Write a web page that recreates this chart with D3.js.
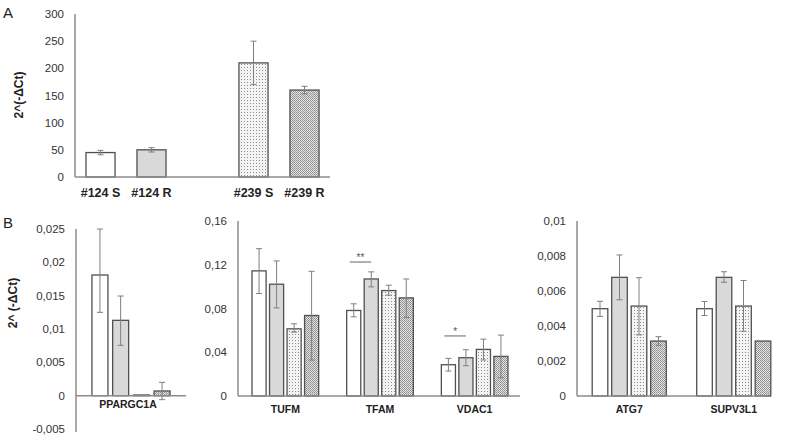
<!DOCTYPE html>
<html><head><meta charset="utf-8">
<script src="https://cdn.jsdelivr.net/npm/d3@7"></script>
<style>
html,body{margin:0;padding:0;background:#fff;}
svg{display:block;font-family:"Liberation Sans",Arial,sans-serif;}
</style></head>
<body>
<svg id="c" width="786" height="440"></svg>
<script>
// ---------- DATA ----------
// Panel A
const catsA = ["#124 S", "#124 R", "#239 S", "#239 R"];
const valsA = [45, 50, 210, 160];
const loA   = [41, 46, 170, 153];
const hiA   = [49, 54, 250, 167];
const ticksA = [0, 50, 100, 150, 200, 250, 300];

// Panel B, series order: #124 S, #124 R, #239 S, #239 R
const genesL = ["PPARGC1A"];
const valsL = [[0.0181, 0.0113, 0.0001, 0.0007]];
const loL   = [[0.0125, 0.00755, null, -0.0006]];
const hiL   = [[0.025, 0.01495, null, 0.002]];
const ticksL = [-0.005, 0, 0.005, 0.01, 0.015, 0.02, 0.025];

const genesM = ["TUFM", "TFAM", "VDAC1"];
const valsM = [[0.1144, 0.1022, 0.0614, 0.0736],
               [0.0782, 0.1070, 0.0964, 0.0897],
               [0.0286, 0.0350, 0.0426, 0.0362]];
const loM   = [[0.0937, 0.0806, 0.0584, 0.0329],
               [0.0724, 0.0998, 0.0922, 0.0718],
               [0.0228, 0.0277, 0.0329, 0.0167]];
const hiM   = [[0.1347, 0.1235, 0.0660, 0.1140],
               [0.0843, 0.1135, 0.1013, 0.1070],
               [0.0344, 0.0423, 0.0520, 0.0557]];
const ticksM = [0, 0.04, 0.08, 0.12, 0.16];
const sigM = [{gene: "TFAM", y: 0.1225, label: "**"},
              {gene: "VDAC1", y: 0.0549, label: "*"}];

const genesR = ["ATG7", "SUPV3L1"];
const valsR = [[0.00499, 0.00678, 0.00514, 0.00314],
               [0.00499, 0.00678, 0.00514, 0.00314]];
const loR   = [[0.00455, 0.0055, 0.00349, 0.0029],
               [0.0046, 0.0065, 0.0037, null]];
const hiR   = [[0.00541, 0.00806, 0.00676, 0.00339],
               [0.0054, 0.0071, 0.0066, null]];
const ticksR = [0, 0.002, 0.004, 0.006, 0.008, 0.01];

const yTitle = "2^(-ΔCt)";
const yTitleB = "2^ (-ΔCt)";

// ---------- STYLE ----------
const svg = d3.select("#c");
const defs = svg.append("defs");
const p1 = defs.append("pattern").attr("id", "dotsLight").attr("patternUnits", "userSpaceOnUse")
  .attr("width", 3).attr("height", 3);
p1.append("rect").attr("width", 3).attr("height", 3).attr("fill", "#f4f4f4");
p1.append("rect").attr("x", 1).attr("y", 1).attr("width", 1).attr("height", 1).attr("fill", "#8a8a8a");
const p2 = defs.append("pattern").attr("id", "dotsDark").attr("patternUnits", "userSpaceOnUse")
  .attr("width", 2).attr("height", 2);
p2.append("rect").attr("width", 2).attr("height", 2).attr("fill", "#e4e4e4");
p2.append("rect").attr("x", 0).attr("y", 0).attr("width", 1).attr("height", 1).attr("fill", "#8c8c8c");
p2.append("rect").attr("x", 1).attr("y", 1).attr("width", 1).attr("height", 1).attr("fill", "#9a9a9a");

const fills = ["#ffffff", "#d9d9d9", "url(#dotsLight)", "url(#dotsDark)"];
const barStroke = "#505050";
const axisColor = "#8c8c8c";
const errColor = "#7f7f7f";
const fmt = v => (v === 0 ? "0" : String(v).replace(".", ","));

function yAxisDraw(y, ticks, x, yTop, yBot, labelSize) {
  svg.append("line").attr("x1", x).attr("x2", x).attr("y1", yTop).attr("y2", yBot)
    .attr("stroke", axisColor).attr("stroke-width", 1.5);
  svg.append("g").selectAll("text").data(ticks).join("text")
    .attr("x", x - 11).attr("y", d => y(d)).attr("dy", "0.35em")
    .attr("text-anchor", "end").attr("font-size", labelSize).attr("fill", "#333")
    .text(fmt);
}
function xAxisLine(y, x0, x1) {
  svg.append("line").attr("x1", x0).attr("x2", x1).attr("y1", y(0)).attr("y2", y(0))
    .attr("stroke", axisColor).attr("stroke-width", 1.5);
}
function errBars(g, recs, y, cap) {
  recs.filter(r => r.lo != null).forEach(r => {
    g.append("line").attr("x1", r.cx).attr("x2", r.cx).attr("y1", y(r.lo)).attr("y2", y(r.hi))
      .attr("stroke", errColor).attr("stroke-width", 1);
    [r.lo, r.hi].forEach(v => g.append("line").attr("x1", r.cx - cap / 2).attr("x2", r.cx + cap / 2)
      .attr("y1", y(v)).attr("y2", y(v)).attr("stroke", errColor).attr("stroke-width", 1));
  });
}

// ---------- PANEL A ----------
const domA = [catsA[0], catsA[1], "gap", catsA[2], catsA[3]];
const xA = d3.scaleBand().domain(domA).range([75, 330]).paddingInner(0.43).paddingOuter(0.215);
const yA = d3.scaleLinear().domain([0, 300]).range([177, 14]);
yAxisDraw(yA, ticksA, 75, 14, 177, 11.5);
const gA = svg.append("g");
const recA = catsA.map((c, i) => ({c, v: valsA[i], lo: loA[i], hi: hiA[i], i,
  cx: xA(c) + xA.bandwidth() / 2}));
gA.selectAll("rect").data(recA).join("rect")
  .attr("x", d => xA(d.c)).attr("width", xA.bandwidth())
  .attr("y", d => yA(d.v)).attr("height", d => yA(0) - yA(d.v))
  .attr("fill", d => fills[d.i]).attr("stroke", barStroke).attr("stroke-width", 1.3);
xAxisLine(yA, 75, 330);
errBars(gA, recA, yA, 6);
svg.append("g").selectAll("text").data(catsA).join("text")
  .attr("x", d => xA(d) + xA.bandwidth() / 2).attr("y", 197)
  .attr("text-anchor", "middle").attr("font-size", 12.5).attr("font-weight", "bold").attr("fill", "#222")
  .text(d => d);
svg.append("text").attr("transform", "translate(23,95) rotate(-90)").attr("text-anchor", "middle")
  .attr("font-size", 12).attr("font-weight", "bold").attr("fill", "#222").text(yTitle);
svg.append("text").attr("x", 3).attr("y", 18).attr("font-size", 15).attr("fill", "#222").text("A");

// ---------- PANEL B ----------
function groupPanel(genes, vals, lo, hi, domain, ticks, xr, axisEnd, yr, pin, pout, labelY, labelSize, labelShift) {
  const y = d3.scaleLinear().domain(domain).range(yr);
  const x0 = d3.scaleBand().domain(genes).range(xr);
  const x1 = d3.scaleBand().domain(d3.range(4)).range([0, x0.bandwidth()])
    .paddingInner(pin).paddingOuter(pout);
  yAxisDraw(y, ticks, xr[0], y(domain[1]), y(domain[0]) + (domain[0] < 0 ? 3 : 0), labelSize);
  const g = svg.append("g");
  const recs = [];
  genes.forEach((gname, gi) => vals[gi].forEach((v, si) => recs.push({
    gname, si, v, lo: lo[gi][si], hi: hi[gi][si],
    x: x0(gname) + x1(si), cx: x0(gname) + x1(si) + x1.bandwidth() / 2})));
  g.selectAll("rect").data(recs).join("rect")
    .attr("x", d => d.x).attr("width", x1.bandwidth())
    .attr("y", d => y(Math.max(0, d.v))).attr("height", d => Math.abs(y(0) - y(d.v)))
    .attr("fill", d => fills[d.si]).attr("stroke", barStroke).attr("stroke-width", 1.3);
  xAxisLine(y, xr[0], axisEnd);
  errBars(g, recs, y, 6);
  svg.append("g").selectAll("text").data(genes).join("text")
    .attr("x", d => x0(d) + x0.bandwidth() / 2 + (labelShift || 0)).attr("y", labelY)
    .attr("text-anchor", "middle").attr("font-size", 10.5).attr("font-weight", "bold").attr("fill", "#222")
    .text(d => d);
  return {x0, x1, y};
}

groupPanel(genesL, valsL, loL, hiL, [-0.005, 0.025], ticksL, [76, 186], 186, [429, 229], 0.227, 0.77, 408, 11.5, -3);
const M = groupPanel(genesM, valsM, loM, hiM, [0, 0.16], ticksM, [238, 522], 520, [396, 221], 0.195, 0.8, 413, 11.5);
groupPanel(genesR, valsR, loR, hiR, [0, 0.01], ticksR, [577, 786], 768, [396, 221], 0.2, 0.78, 413, 11.5);

// significance marks
sigM.forEach(s => {
  const xs = M.x0(s.gene) + M.x1(0) + 3;
  const xe = M.x0(s.gene) + M.x1(1) + M.x1.bandwidth() / 2;
  svg.append("line").attr("x1", xs).attr("x2", xe).attr("y1", M.y(s.y)).attr("y2", M.y(s.y))
    .attr("stroke", "#666").attr("stroke-width", 1);
  svg.append("text").attr("x", (xs + xe) / 2).attr("y", M.y(s.y) - 1)
    .attr("text-anchor", "middle").attr("font-size", 10).attr("fill", "#555").text(s.label);
});

svg.append("text").attr("transform", "translate(17,303) rotate(-90)").attr("text-anchor", "middle")
  .attr("font-size", 12).attr("font-weight", "bold").attr("fill", "#222").text(yTitleB);
svg.append("text").attr("x", 3).attr("y", 228).attr("font-size", 15).attr("fill", "#222").text("B");
</script>
</body></html>
